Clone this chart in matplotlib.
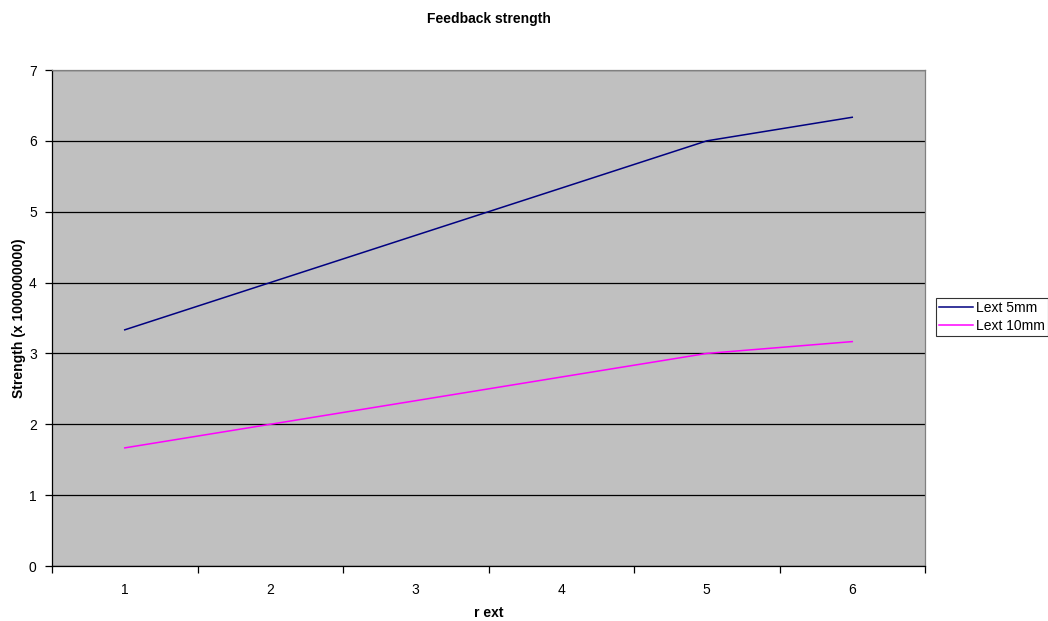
import matplotlib
matplotlib.use("Agg")
import matplotlib.pyplot as plt
from matplotlib.ticker import FixedLocator, NullFormatter

plt.rcParams['font.family'] = ['Liberation Sans', 'DejaVu Sans']

categories = ["1", "2", "3", "4", "5", "6"]
lext_5mm = [3.333, 4.0, 4.667, 5.333, 6.0, 6.333]
lext_10mm = [1.667, 2.0, 2.333, 2.667, 3.0, 3.167]

fig = plt.figure(figsize=(10.48, 6.21), dpi=100)
ax = fig.add_axes([52/1048, 1-566/621, (925-52)/1048, (566-70)/621])
ax.set_facecolor('#C0C0C0')

x = list(range(1, len(categories) + 1))
ax.plot(x, lext_5mm, color='#000080', lw=1.1, label='Lext 5mm')
ax.plot(x, lext_10mm, color='#FF00FF', lw=1.1, label='Lext 10mm')

ax.set_xlim(0.5, len(categories) + 0.5)
ax.set_ylim(0, 7)
ax.set_yticks(range(0, 8))
ax.yaxis.grid(True, color='black', lw=0.9)
ax.set_axisbelow(True)

ax.xaxis.set_major_locator(FixedLocator([i + 0.5 for i in range(0, len(categories) + 1)]))
ax.xaxis.set_major_formatter(NullFormatter())
ax.xaxis.set_minor_locator(FixedLocator(x))
ax.set_xticklabels(categories, minor=True)
ax.tick_params(axis='x', which='minor', length=0, pad=12, labelsize=10)
ax.tick_params(axis='x', which='major', length=5, width=0.9, direction='out')
ax.tick_params(axis='y', length=5, width=0.9, direction='out', labelsize=10, pad=6)

for s in ['top', 'right']:
    ax.spines[s].set_color('#808080')
    ax.spines[s].set_linewidth(0.9)
for s in ['left', 'bottom']:
    ax.spines[s].set_color('black')
    ax.spines[s].set_linewidth(0.9)

ax.set_title('Feedback strength', fontsize=10, fontweight='bold', pad=34)
ax.set_xlabel('r ext', fontsize=10, fontweight='bold', labelpad=7)
ax.set_ylabel('Strength (x 1000000000)', fontsize=10, fontweight='bold', labelpad=2)

leg = fig.legend(loc='center left', bbox_to_anchor=(936/1048, 1-317/621), fontsize=10,
                 frameon=True, fancybox=False, edgecolor='black', facecolor='white',
                 handlelength=2.4, handletextpad=0.2, borderpad=0.25, labelspacing=0.25,
                 borderaxespad=0)
leg.get_frame().set_linewidth(0.8)

fig.savefig('out.png', dpi=100)
